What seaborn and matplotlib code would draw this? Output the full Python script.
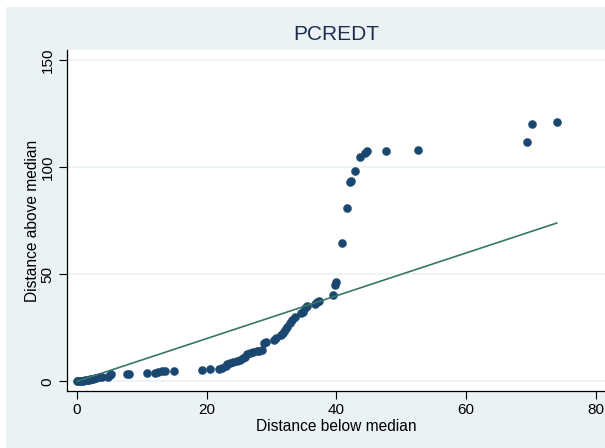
import matplotlib
matplotlib.use("Agg")
import matplotlib.pyplot as plt
from matplotlib.patches import Rectangle
import seaborn as sns
import pandas as pd

# Symmetry plot of PCREDT: distance of paired order statistics below / above the median
below_median = [
    0.0, 0.2, 0.5, 0.8, 1.0, 1.3, 1.5, 1.8, 2.0, 2.3, 2.5, 2.8, 3.0, 3.4, 3.8,
    4.8, 5.1, 5.3, 7.7, 8.0, 10.8, 12.0, 12.5, 13.1, 13.6, 15.0,
    19.2, 20.5, 21.9, 22.3, 23.0, 23.1, 23.6, 24.1, 24.6, 25.2, 25.6, 25.9,
    26.2, 26.7, 27.2, 27.7, 28.1, 28.5, 28.8, 29.2, 30.3, 30.7,
    31.5, 31.8, 32.0, 32.4, 32.8, 33.2, 33.6, 34.6, 34.9, 35.1, 35.4,
    36.7, 37.0, 37.3, 39.4, 39.7, 40.0, 40.9, 41.6, 42.1, 42.2, 42.9,
    43.6, 44.4, 44.7, 47.6, 52.6, 69.4, 70.2, 74.0,
]
above_median = [
    0.2, 0.1, 0.3, 0.2, 0.3, 0.5, 0.6, 0.8, 0.9, 1.0, 1.2, 1.4, 1.5, 1.9, 2.1,
    2.1, 2.8, 3.3, 3.4, 3.4, 3.7, 4.0, 4.3, 4.7, 5.0, 5.0,
    5.3, 5.7, 5.6, 6.1, 7.1, 8.1, 8.4, 8.9, 9.5, 10.0, 10.8, 11.5,
    12.8, 13.4, 13.8, 14.2, 14.3, 14.6, 17.8, 18.5, 19.3, 20.1,
    21.6, 22.4, 24.0, 25.5, 27.1, 28.6, 30.2, 31.8, 32.5, 34.1, 35.3,
    36.0, 37.2, 37.7, 40.2, 44.9, 46.5, 64.8, 80.8, 93.1, 93.7, 98.3,
    105.0, 106.8, 107.8, 107.8, 108.1, 111.8, 120.4, 121.3,
]
x_ticks = [0, 20, 40, 60, 80]
y_ticks = [0, 50, 100, 150]
title_text = "PCREDT"
x_title = "Distance below median"
y_title = "Distance above median"

df = pd.DataFrame({"below": below_median, "above": above_median})
ref = pd.DataFrame({"x": [min(below_median), max(below_median)],
                    "y": [min(below_median), max(below_median)]})

sns.set_theme(style="white")
plt.rcParams["font.family"] = ["Liberation Sans", "DejaVu Sans"]

band = "#EAF2F3"
navy = "#1A476F"
green = "#357866"

fig = plt.figure(figsize=(6.05, 4.48), dpi=100, facecolor="white")
fig.patches.append(Rectangle((6 / 605, 0), 1, 1 - 7 / 448, transform=fig.transFigure,
                             facecolor=band, edgecolor="none", zorder=-10))

ax = fig.add_axes([67 / 605, 1 - 391 / 448, 1 - 67 / 605, (391 - 50) / 448])
ax.set_facecolor("white")

for yv in y_ticks:
    ax.axhline(yv, color=band, lw=1.2, zorder=0)

sns.scatterplot(data=df, x="below", y="above", ax=ax, color=navy, s=34,
                edgecolor=navy, linewidth=0.3, zorder=2, legend=False)
sns.lineplot(data=ref, x="x", y="y", ax=ax, color=green, lw=1.2, zorder=3)

ax.set_xlim(-1.54, 81.4)
ax.set_ylim(-4.5, 154.8)
ax.set_xticks(x_ticks)
ax.set_yticks(y_ticks)
ax.set_xticklabels([str(v) for v in x_ticks], fontsize=11)
ax.set_yticklabels([str(v) for v in y_ticks], fontsize=11, rotation=90, va="center")
ax.tick_params(axis="both", direction="out", length=6, width=0.8, color="black",
               bottom=True, left=True, pad=3, labelcolor="black")

for side in ["top", "right"]:
    ax.spines[side].set_visible(False)
for side in ["left", "bottom"]:
    ax.spines[side].set_color("black")
    ax.spines[side].set_linewidth(0.9)

ax.set_xlabel(x_title, fontsize=11.2, color="black", labelpad=1)
ax.set_ylabel(y_title, fontsize=11.2, color="black", labelpad=0.5)

fig.text(336 / 605, 1 - 35 / 448, title_text, fontsize=15, color="#1E2D4E",
         ha="center", va="center")

fig.savefig("out.png", dpi=100, facecolor=fig.get_facecolor())
